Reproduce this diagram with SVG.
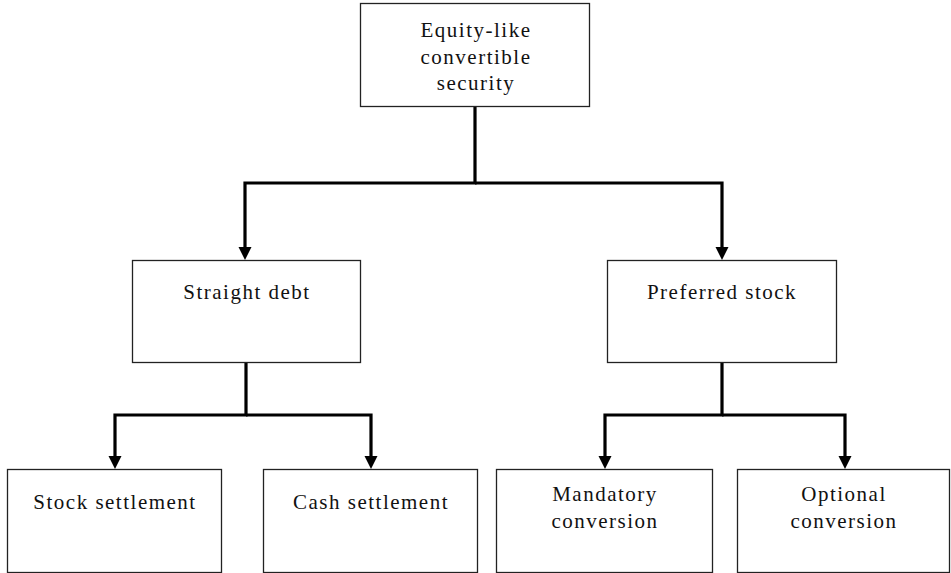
<svg xmlns="http://www.w3.org/2000/svg" width="951" height="573" viewBox="0 0 951 573">
<style>
.box{fill:#fff;stroke:#222;stroke-width:1.3}
.lbl{font-family:"Liberation Serif","Times New Roman",serif;font-size:21px;letter-spacing:1.5px;fill:#111;text-anchor:middle}
.conn{fill:none;stroke:#000;stroke-width:3.2;stroke-linejoin:miter}
.head{fill:#000}
</style>
<rect width="951" height="573" fill="#fff"/>
<g id="connectors">
<path class="conn" d="M475,107 V183 H245 V248"/>
<path class="conn" d="M475,183 H722 V248"/>
<path class="conn" d="M246,363 V415 H115 V457"/>
<path class="conn" d="M246,415 H371 V457"/>
<path class="conn" d="M722,363 V415 H605 V457"/>
<path class="conn" d="M722,415 H845 V457"/>
<polygon class="head" points="238.5,247 251.5,247 245,260"/>
<polygon class="head" points="715.5,247 728.5,247 722,260"/>
<polygon class="head" points="108.5,456 121.5,456 115,469"/>
<polygon class="head" points="364.5,456 377.5,456 371,469"/>
<polygon class="head" points="598.5,456 611.5,456 605,469"/>
<polygon class="head" points="838.5,456 851.5,456 845,469"/>
</g>
<g id="n-equity">
<rect class="box" x="360.5" y="3.5" width="229" height="103"/>
<text class="lbl" x="476" y="37">Equity-like</text>
<text class="lbl" x="476" y="63.5">convertible</text>
<text class="lbl" x="476" y="90">security</text>
</g>
<g id="n-straight">
<rect class="box" x="132.5" y="260.5" width="228" height="102"/>
<text class="lbl" x="247" y="299">Straight debt</text>
</g>
<g id="n-preferred">
<rect class="box" x="607.5" y="260.5" width="229" height="102"/>
<text class="lbl" x="722" y="299">Preferred stock</text>
</g>
<g id="n-stock">
<rect class="box" x="7.5" y="469.5" width="214" height="103"/>
<text class="lbl" x="115" y="509">Stock settlement</text>
</g>
<g id="n-cash">
<rect class="box" x="263.5" y="469.5" width="214" height="103"/>
<text class="lbl" x="371" y="509">Cash settlement</text>
</g>
<g id="n-mandatory">
<rect class="box" x="496.5" y="469.5" width="216" height="103"/>
<text class="lbl" x="605" y="501">Mandatory</text>
<text class="lbl" x="605" y="528">conversion</text>
</g>
<g id="n-optional">
<rect class="box" x="737.5" y="469.5" width="212" height="103"/>
<text class="lbl" x="844" y="501">Optional</text>
<text class="lbl" x="844" y="528">conversion</text>
</g>
</svg>
